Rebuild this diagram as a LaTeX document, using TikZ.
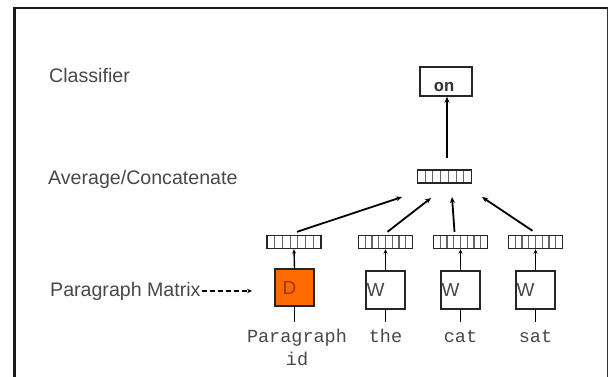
\documentclass[tikz,border=0pt]{standalone}
\usepackage{fontspec}
\setmainfont{Liberation Sans}
\newfontfamily\monofam{Liberation Mono}
\usetikzlibrary{arrows.meta,calc}
\definecolor{txtgray}{HTML}{484848}
\definecolor{dorange}{HTML}{FF6A00}
\definecolor{dbrown}{HTML}{9A3A00}
\tikzset{
  lbl/.style={anchor=base west, inner sep=0, text=txtgray, font=\fontsize{19.6}{22}\selectfont},
  word/.style={inner sep=0, text=txtgray, font=\monofam\fontsize{18.5}{23}\selectfont, align=center, anchor=base},
  vec/.style={draw=black!85, line width=1.4pt, minimum width=54pt, minimum height=13pt, inner sep=0,
    path picture={\foreach \i in {1,...,#1}{\draw[black!60, line width=1.1pt]
      ($(path picture bounding box.south west)!{\i/(#1+1)}!(path picture bounding box.south east)$) --
      ($(path picture bounding box.north west)!{\i/(#1+1)}!(path picture bounding box.north east)$);}}},
  wbox/.style={draw=black!85, line width=1.4pt, minimum width=39pt, minimum height=38pt, inner sep=0, fill=white},
  boxletter/.style={font=\fontsize{19}{22}\selectfont, inner sep=0, anchor=north west},
  conn/.style={line width=1.8pt, -{Stealth[length=6pt,width=5pt]}},
  small/.style={line width=1.4pt, -{Stealth[length=4.5pt,width=4pt]}},
}
\begin{document}
\begin{tikzpicture}[x=1pt,y=-1pt]
\useasboundingbox (0,0) rectangle (609,376);
% frame
\draw[line width=2.5pt, black!90] (14.5,380) -- (14.5,8) -- (608,8);
\draw[line width=1.5pt, black!80] (607.5,8) -- (607.5,380);
% labels
\node[lbl] (cls) at (49,82) {Classifier};
\node[lbl] (avgl) at (48,184) {Average/Concatenate};
\node[lbl] (pml) at (50,296) {Paragraph Matrix};
% classifier output
\node[draw=black!85, line width=1.4pt, minimum width=52pt, minimum height=29pt, inner sep=0] (on) at (446,81.5) {};
\node[inner sep=0, anchor=base, font=\monofam\bfseries\fontsize{17}{20}\selectfont, text=black!80] (ontxt) at (444,91) {on};
% average vector
\node[vec=6] (avg) at (444.5,176.5) {};
% lower vectors
\node[vec=6] (pv) at (294,242) {};
\node[vec=7] (tv) at (385.5,242) {};
\node[vec=7] (cv) at (460.5,242) {};
\node[vec=7] (sv) at (535.5,242) {};
% boxes
\node[wbox, fill=dorange, minimum width=39pt, minimum height=37pt] (dbox) at (294.5,287.5) {};
\node[wbox] (tb) at (385.5,290) {};
\node[wbox] (cb) at (460.5,290) {};
\node[wbox] (sb) at (535.5,290) {};
\node[boxletter, text=dbrown] (dl) at ($(dbox.north west)+(8,13)$) {D};
\node[boxletter, text=txtgray] (tl) at ($(tb.north west)+(1,13)$) {W};
\node[boxletter, text=txtgray] (cl) at ($(cb.north west)+(1,13)$) {W};
\node[boxletter, text=txtgray] (sl) at ($(sb.north west)+(1,13)$) {W};
% words
\node[word] (pw) at (297,365) {Paragraph\\id};
\node[word] (tw) at (385.5,342) {the};
\node[word] (cw) at (460.5,342) {cat};
\node[word] (sw) at (535.5,342) {sat};
% stems below boxes
\coordinate (ps) at (294.5,322);
\coordinate (ts) at (385.5,322);
\coordinate (cs) at (460.5,322);
\coordinate (ss) at (535.5,322);
\draw[line width=1.4pt] (dbox.south) -- (ps);
\draw[line width=1.4pt] (tb.south) -- (ts);
\draw[line width=1.4pt] (cb.south) -- (cs);
\draw[line width=1.4pt] (sb.south) -- (ss);
% box to vector arrows
\draw[small] (dbox.north) -- (pv.south);
\draw[small] (tb.north) -- (tv.south);
\draw[small] (cb.north) -- (cv.south);
\draw[small] (sb.north) -- (sv.south);
% vectors to average
\coordinate (pe) at (402,197);
\coordinate (te) at (431,198);
\coordinate (ce) at (452,197);
\coordinate (se) at (482,197);
\draw[conn] ($(pv.north)+(3,-3)$) -- (pe);
\draw[conn] ($(tv.north)+(2,-3)$) -- (te);
\draw[conn] ($(cv.north)+(-6,-3)$) -- (ce);
\draw[conn] ($(sv.north)+(-3,-4)$) -- (se);
% average to classifier
\coordinate (as) at (447,158);
\draw[conn] (as) -- (on.south -| as);
% dashed pointer
\coordinate (pms) at (202,291);
\coordinate (pme) at (252,291);
\draw[line width=1.3pt, dash pattern=on 5pt off 3pt, -{Stealth[length=5pt,width=4.5pt]}] (pms) -- (pme);
\end{tikzpicture}
\end{document}
